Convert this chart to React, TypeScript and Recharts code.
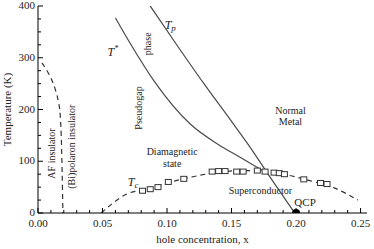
import { ComposedChart, Line, Scatter, XAxis, YAxis, ReferenceDot } from "recharts"

// AF insulator boundary (dashed)
const afX = [0.003, 0.007, 0.0105, 0.0135, 0.0158, 0.0172, 0.018, 0.0187, 0.0193]
const afT = [290, 275, 258, 238, 215, 190, 150, 80, 0]

// pseudogap T*
const tStarX = [0.06, 0.0714, 0.09, 0.118, 0.14, 0.155, 0.174]
const tStarT = [377, 328, 255, 172, 132, 110, 82]

// pairing temperature Tp
const tpX = [0.087, 0.11, 0.13, 0.15, 0.165, 0.177, 0.199]
const tpT = [400, 316, 245, 177, 125, 80, 0]

// Tc dashed guide
const tcLineX = [0.049, 0.07, 0.085, 0.1, 0.12, 0.14, 0.16, 0.175, 0.19, 0.21, 0.23, 0.248]
const tcLineT = [0, 38, 46, 58, 70, 79, 82, 80, 75, 63, 48, 25]

// Tc measured (open squares)
const tcSqX = [0.081, 0.087, 0.093, 0.101, 0.113, 0.135, 0.14, 0.145, 0.154, 0.159, 0.17, 0.176, 0.183, 0.187, 0.191, 0.206, 0.219, 0.224]
const tcSqT = [43, 46, 50, 60, 66, 80, 81, 81, 80, 80, 82, 80, 78, 77, 75, 65, 58, 56]

const qcp = [{ x: 0.2, t: 0 }]

const xMajor = [0, 0.05, 0.1, 0.15, 0.2, 0.25]
const xTicks = [0, 0.01, 0.02, 0.03, 0.04, 0.05, 0.06, 0.07, 0.08, 0.09, 0.1, 0.11, 0.12, 0.13, 0.14, 0.15, 0.16, 0.17, 0.18, 0.19, 0.2, 0.21, 0.22, 0.23, 0.24, 0.25]
const yMajor = [0, 100, 200, 300, 400]
const yTicks = [0, 25, 50, 75, 100, 125, 150, 175, 200, 225, 250, 275, 300, 325, 350, 375, 400]

const zip = (xs: number[], ts: number[]) => xs.map((x, i) => ({ x, t: ts[i] }))

const afData = zip(afX, afT)
const tStarData = zip(tStarX, tStarT)
const tpData = zip(tpX, tpT)
const tcLine = zip(tcLineX, tcLineT)
const tcSquares = zip(tcSqX, tcSqT)

const FONT = "Liberation Serif"
const INK = "#222"
const LINE = "#4a4a4a"

const isMajor = (v: number, majors: number[]) => majors.some((m) => Math.abs(m - v) < 1e-6)

function BottomTick(props: any) {
	const { x, y, payload } = props
	const major = isMajor(payload.value, xMajor)
	return (
		<g>
			<line x1={x} x2={x} y1={y} y2={y - (major ? 5 : 3)} stroke="#000" />
			{major && (
				<text x={x} y={y + 14} textAnchor="middle" fontSize={11} fontFamily={FONT} fill={INK}>
					{payload.value.toFixed(2)}
				</text>
			)}
		</g>
	)
}

function TopTick(props: any) {
	const { x, y, payload } = props
	const major = isMajor(payload.value, xMajor)
	return <line x1={x} x2={x} y1={y} y2={y + (major ? 5 : 3)} stroke="#000" />
}

function LeftTick(props: any) {
	const { x, y, payload } = props
	const major = isMajor(payload.value, yMajor)
	return (
		<g>
			<line x1={x} x2={x + (major ? 5 : 3)} y1={y} y2={y} stroke="#000" />
			{major && (
				<text x={x - 3} y={y + 3} textAnchor="end" fontSize={11} fontFamily={FONT} fill={INK}>
					{payload.value}
				</text>
			)}
		</g>
	)
}

function RightTick(props: any) {
	const { x, y, payload } = props
	const major = isMajor(payload.value, yMajor)
	return <line x1={x} x2={x - (major ? 5 : 3)} y1={y} y2={y} stroke="#000" />
}

// text annotations anchored to data coords
function note(key: string, x: number, t: number, body: any, opts: { rotate?: boolean; size?: number; italic?: boolean } = {}) {
	return (
		<ReferenceDot
			key={key}
			x={x}
			y={t}
			r={0}
			ifOverflow="visible"
			shape={(p: any) => (
				<text
					x={p.cx}
					y={p.cy}
					textAnchor="middle"
					dominantBaseline="central"
					fontSize={opts.size ?? 10}
					fontStyle={opts.italic ? "italic" : "normal"}
					fontFamily={FONT}
					fill={INK}
					transform={opts.rotate ? `rotate(-90 ${p.cx} ${p.cy})` : undefined}
				>
					{body}
				</text>
			)}
		/>
	)
}

const square = (p: any) => <rect x={p.cx - 3} y={p.cy - 2.5} width={6} height={5} fill="#fff" stroke="#333" strokeWidth={1} />
const blackDot = (p: any) => <circle cx={p.cx} cy={p.cy} r={4} fill="#000" />

export default function App() {
	return (
		<div style={{ position: "absolute", left: 0, top: 0, background: "#fff" }}>
			<ComposedChart width={374} height={249} margin={{ top: 6, right: 7, bottom: 0, left: 0 }}>
				<XAxis
					dataKey="x"
					type="number"
					domain={[0, 0.255]}
					allowDataOverflow
					ticks={xTicks}
					interval={0}
					tickSize={0}
					tickMargin={0}
					height={36}
					stroke="#000"
					tick={<BottomTick />}
					label={{
						content: ({ viewBox }: any) => (
							<text x={viewBox.x + viewBox.width / 2} y={viewBox.y + 30} textAnchor="middle" fontSize={11} fontFamily={FONT} fill={INK}>
								hole concentration, x
							</text>
						),
					}}
				/>
				<XAxis
					xAxisId="top"
					orientation="top"
					dataKey="x"
					type="number"
					domain={[0, 0.255]}
					allowDataOverflow
					ticks={xTicks}
					interval={0}
					tickSize={0}
					tickMargin={0}
					height={0}
					stroke="#000"
					tick={<TopTick />}
				/>
				<YAxis
					dataKey="t"
					type="number"
					domain={[0, 400]}
					allowDataOverflow
					ticks={yTicks}
					interval={0}
					tickSize={0}
					tickMargin={0}
					width={38}
					stroke="#000"
					tick={<LeftTick />}
					label={{
						content: ({ viewBox }: any) => {
							const cx = viewBox.x + 7
							const cy = viewBox.y + viewBox.height / 2
							return (
								<text x={cx} y={cy} textAnchor="middle" dominantBaseline="central" fontSize={11} fontFamily={FONT} fill={INK} transform={`rotate(-90 ${cx} ${cy})`}>
									Temperature (K)
								</text>
							)
						},
					}}
				/>
				<YAxis
					yAxisId="right"
					orientation="right"
					type="number"
					domain={[0, 400]}
					allowDataOverflow
					ticks={yTicks}
					interval={0}
					tickSize={0}
					tickMargin={0}
					width={0}
					stroke="#000"
					tick={<RightTick />}
				/>

				<Line data={afData} dataKey="t" type="monotone" stroke="#333" strokeWidth={1.2} strokeDasharray="5 4" dot={false} isAnimationActive={false} />
				<Line data={tcLine} dataKey="t" type="monotone" stroke="#333" strokeWidth={1.2} strokeDasharray="5 4" dot={false} isAnimationActive={false} />
				<Line data={tStarData} dataKey="t" type="monotone" stroke={LINE} strokeWidth={1.2} dot={false} isAnimationActive={false} />
				<Line data={tpData} dataKey="t" type="monotone" stroke={LINE} strokeWidth={1.2} dot={false} isAnimationActive={false} />
				<Scatter data={tcSquares} dataKey="t" shape={square} isAnimationActive={false} />
				<Scatter data={qcp} dataKey="t" shape={blackDot} isAnimationActive={false} />

				{note("af", 0.0101, 115, "AF insulator", { rotate: true })}
				{note("bi", 0.0258, 128, "(Bi)polaron insulator", { rotate: true })}
				{note("pg", 0.0776, 203, "Pseudogap", { rotate: true })}
				{note("ph", 0.0846, 327, "phase", { rotate: true })}
				{note("ts", 0.058, 311, <>T<tspan fontSize={8} dy={-4}>*</tspan></>, { italic: true, size: 12 })}
				{note("tp", 0.1025, 363, <>T<tspan fontSize={9} dy={3}>p</tspan></>, { italic: true, size: 12 })}
				{note("tc", 0.0738, 60, <>T<tspan fontSize={9} dy={3}>c</tspan></>, { italic: true, size: 12 })}
				{note("dm", 0.104, 118, "Diamagnetic")}
				{note("st", 0.104, 95, "state")}
				{note("nm", 0.1957, 199, "Normal")}
				{note("mt", 0.1957, 176, "Metal")}
				{note("sc", 0.1724, 44, "Superconductor")}
				{note("qcp", 0.207, 21, "QCP", { size: 11 })}
			</ComposedChart>
		</div>
	)
}
